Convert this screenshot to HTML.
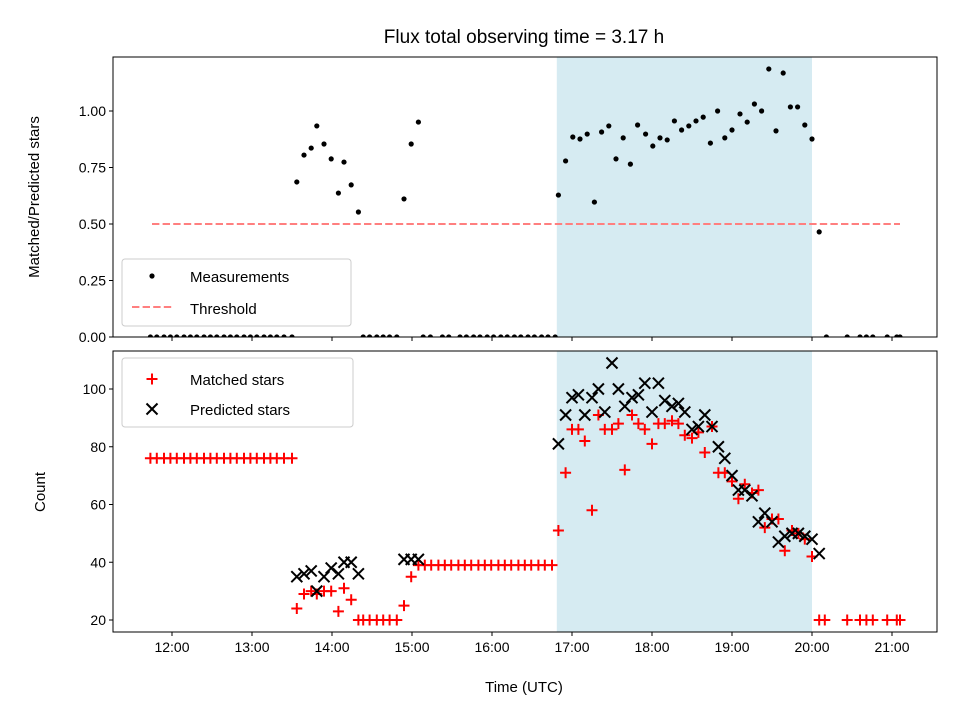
<!DOCTYPE html>
<html><head><meta charset="utf-8"><style>
body{margin:0;background:#fff}
svg{font-family:"Liberation Sans","DejaVu Sans",sans-serif}
</style></head><body>
<svg id="c" width="960" height="720" xmlns="http://www.w3.org/2000/svg"></svg>
<script>
// ---- data ----
const measTimes = [11.73,11.81,11.90,11.98,12.06,12.15,12.23,12.31,12.40,12.48,12.56,12.65,12.73,12.81,12.90,12.98,13.06,13.15,13.23,13.31,13.40,13.50,
 13.56,13.65,13.74,13.81,13.90,13.99,14.08,14.15,14.24,14.33,
 14.39,14.47,14.56,14.64,14.72,14.81,
 14.90,14.99,15.08,
 15.14,15.23,15.38,15.46,15.60,15.68,15.77,15.85,15.94,16.02,16.11,16.19,16.28,16.36,16.45,16.53,16.62,16.70,16.79,
 16.83,16.92,17.01,17.10,17.19,17.28,17.37,17.46,17.55,17.64,17.73,17.82,17.92,18.01,18.10,18.19,18.28,18.37,18.46,18.55,18.64,18.73,18.82,18.91,19.00,19.10,19.19,19.28,19.37,19.46,19.55,19.64,19.73,19.82,19.91,20.00,
 20.09,20.18,20.44,20.60,20.68,20.76,20.94,21.06,21.10];
const measValues = [0,0,0,0,0,0,0,0,0,0,0,0,0,0,0,0,0,0,0,0,0,0,
 0.686,0.805,0.836,0.934,0.854,0.788,0.637,0.774,0.673,0.553,
 0,0,0,0,0,0,
 0.611,0.854,0.951,
 0,0,0,0,0,0,0,0,0,0,0,0,0,0,0,0,0,0,0,
 0.628,0.779,0.885,0.876,0.898,0.597,0.907,0.934,0.788,0.881,0.765,0.938,0.898,0.845,0.881,0.872,0.956,0.916,0.934,0.956,0.973,0.858,1.000,0.881,0.916,0.987,0.951,1.031,1.000,1.186,0.912,1.168,1.018,1.018,0.938,0.876,
 0.465,0,0,0,0,0,0,0,0];
const threshold = 0.5;
const countTimes = [11.73,11.81,11.90,11.98,12.06,12.15,12.23,12.31,12.40,12.48,12.56,12.65,12.73,12.81,12.90,12.98,13.06,13.15,13.23,13.31,13.40,13.50,
 13.56,13.65,13.74,13.81,13.90,13.99,14.08,14.15,14.24,14.33,
 14.39,14.47,14.56,14.64,14.72,14.81,
 14.90,14.99,15.08,
 15.16,15.24,15.33,15.41,15.49,15.58,15.66,15.74,15.83,15.91,15.99,16.08,16.16,16.24,16.33,16.41,16.49,16.58,16.66,16.75,
 16.83,16.92,17.00,17.08,17.16,17.25,17.33,17.41,17.50,17.58,17.66,17.75,17.83,17.91,18.00,18.08,18.16,18.25,18.33,18.41,18.50,18.58,18.66,18.75,18.83,18.91,19.00,19.08,19.16,19.25,19.33,19.41,19.50,19.58,19.66,19.75,19.83,19.91,20.00,20.09,
 20.16,20.44,20.60,20.68,20.76,20.94,21.06,21.10];
const matched = [76,76,76,76,76,76,76,76,76,76,76,76,76,76,76,76,76,76,76,76,76,76,
 24,29,30,29,30,30,23,31,27,20,
 20,20,20,20,20,20,
 25,35,39,
 39,39,39,39,39,39,39,39,39,39,39,39,39,39,39,39,39,39,39,39,
 51,71,86,86,82,58,91,86,86,88,72,91,88,86,81,88,88,89,88,84,83,85,78,87,71,71,68,62,67,64,65,52,55,55,44,51,50,48,42,20,
 20,20,20,20,20,20,20,20];
const predicted = [null,null,null,null,null,null,null,null,null,null,null,null,null,null,null,null,null,null,null,null,null,null,
 35,36,37,30,35,38,36,40,40,36,
 null,null,null,null,null,null,
 41,41,41,
 null,null,null,null,null,null,null,null,null,null,null,null,null,null,null,null,null,null,null,null,
 81,91,97,98,91,97,100,92,109,100,94,97,98,102,92,102,96,94,95,92,86,87,91,87,80,76,70,65,65,63,54,57,54,47,49,50,50,49,48,43,
 null,null,null,null,null,null,null,null];
const shadeStart = 16.81, shadeEnd = 20.0;
const xTicks = [12,13,14,15,16,17,18,19,20,21];
const xTickLabels = ["12:00","13:00","14:00","15:00","16:00","17:00","18:00","19:00","20:00","21:00"];
const topTicks = [0,0.25,0.5,0.75,1.0];
const topTickLabels = ["0.00","0.25","0.50","0.75","1.00"];
const botTicks = [20,40,60,80,100];
// ---- layout ----
const L=113,R=937, T1=57,B1=337, T2=351,B2=632;
const xMin=11.2625,xMax=21.5625;
const X=t=>L+(t-xMin)/(xMax-xMin)*(R-L);
const Y1=v=>B1-v*226;
const Y2=v=>620-(v-20)*2.8875;
const svg=document.getElementById('c');
const NS='http://www.w3.org/2000/svg';
function mk(tag,attrs,parent){const e=document.createElementNS(NS,tag);for(const k in attrs)e.setAttribute(k,attrs[k]);(parent||svg).appendChild(e);return e;}
function txt(s,x,y,size,anchor,parent){const e=mk('text',{x:x,y:y,'font-size':size,'text-anchor':anchor||'middle',fill:'#000'},parent);e.textContent=s;return e;}

// title
let t=txt('Flux total observing time = 3.17 h',524,43,19);



// clip paths
const defs=mk('defs',{});
const c1=mk('clipPath',{id:'cp1'},defs);mk('rect',{x:L,y:T1,width:R-L,height:B1-T1},c1);
const c2=mk('clipPath',{id:'cp2'},defs);mk('rect',{x:L,y:T2,width:R-L,height:B2-T2},c2);

// shading
let s1=mk('rect',{x:X(shadeStart),y:T1,width:X(shadeEnd)-X(shadeStart),height:B1-T1,fill:'#add8e6','fill-opacity':0.5});


let s2=mk('rect',{x:X(shadeStart),y:T2,width:X(shadeEnd)-X(shadeStart),height:B2-T2,fill:'#add8e6','fill-opacity':0.5});



// threshold
let th=mk('line',{x1:X(11.75),x2:X(21.1),y1:Y1(threshold),y2:Y1(threshold),stroke:'#ff7f7f','stroke-width':2,'stroke-dasharray':'7.4,3.2'});



// measurements
const g1=mk('g',{'clip-path':'url(#cp1)'});


measTimes.forEach((tt,i)=>{const c=mk('circle',{cx:X(tt),cy:Y1(measValues[i]),r:2.6,fill:'#000'},g1);

});

// matched / predicted
const g2=mk('g',{'clip-path':'url(#cp2)'});


const g3=mk('g',{'clip-path':'url(#cp2)'});


countTimes.forEach((tt,i)=>{
 const x=X(tt);
 if(predicted[i]!==null){const y=Y2(predicted[i]);
  const p=mk('path',{d:`M${x-5.5},${y-5.5}L${x+5.5},${y+5.5}M${x-5.5},${y+5.5}L${x+5.5},${y-5.5}`,stroke:'#000','stroke-width':2},g3);
  
  }
 if(matched[i]!==null){const y=Y2(matched[i]);
  const p=mk('path',{d:`M${x-5.5},${y}L${x+5.5},${y}M${x},${y-5.5}L${x},${y+5.5}`,stroke:'#f00','stroke-width':2},g2);
  
  }
});

// frames & ticks
[[T1,B1,'top'],[T2,B2,'bottom']].forEach(([a,b,n])=>{
 const f=mk('rect',{x:L,y:a,width:R-L,height:b-a,fill:'none',stroke:'#000','stroke-width':1});
 
 
 xTicks.forEach((tk,i)=>{mk('line',{x1:X(tk),x2:X(tk),y1:b,y2:b+4,stroke:'#000'});
  if(n==='bottom'){const l=txt(xTickLabels[i],X(tk),b+20,14);
   
   }});
});
topTicks.forEach((v,i)=>{mk('line',{x1:L-4,x2:L,y1:Y1(v),y2:Y1(v),stroke:'#000'});
 const l=txt(topTickLabels[i],L-7,Y1(v)+5,14,'end');
 
 });
botTicks.forEach(v=>{mk('line',{x1:L-4,x2:L,y1:Y2(v),y2:Y2(v),stroke:'#000'});
 const l=txt(String(v),L-7,Y2(v)+5,14,'end');
 
 });

// axis labels
let xl=txt('Time (UTC)',524,692,15);


let yl1=txt('Matched/Predicted stars',0,0,15);yl1.setAttribute('transform','translate(39,197) rotate(-90)');


let yl2=txt('Count',0,0,15);yl2.setAttribute('transform','translate(45,492) rotate(-90)');



// legends
const lg1=mk('g',{});


mk('rect',{x:122,y:259,width:229,height:67,rx:3,fill:'#fff','fill-opacity':0.8,stroke:'#ccc'},lg1);
mk('circle',{cx:152,cy:276,r:2.6,fill:'#000'},lg1);
txt('Measurements',190,282,15,'start',lg1);
mk('line',{x1:132,x2:172,y1:307,y2:307,stroke:'#ff7f7f','stroke-width':2,'stroke-dasharray':'7.4,3.2'},lg1);
txt('Threshold',190,314,15,'start',lg1);
const lg2=mk('g',{});


mk('rect',{x:122,y:358,width:231,height:69,rx:3,fill:'#fff','fill-opacity':0.8,stroke:'#ccc'},lg2);
mk('path',{d:'M146.5,379L157.5,379M152,373.5L152,384.5',stroke:'#f00','stroke-width':2},lg2);
txt('Matched stars',190,385,15,'start',lg2);
mk('path',{d:'M146.5,403.5L157.5,414.5M146.5,414.5L157.5,403.5',stroke:'#000','stroke-width':2},lg2);
txt('Predicted stars',190,415,15,'start',lg2);
</script>
</body></html>
